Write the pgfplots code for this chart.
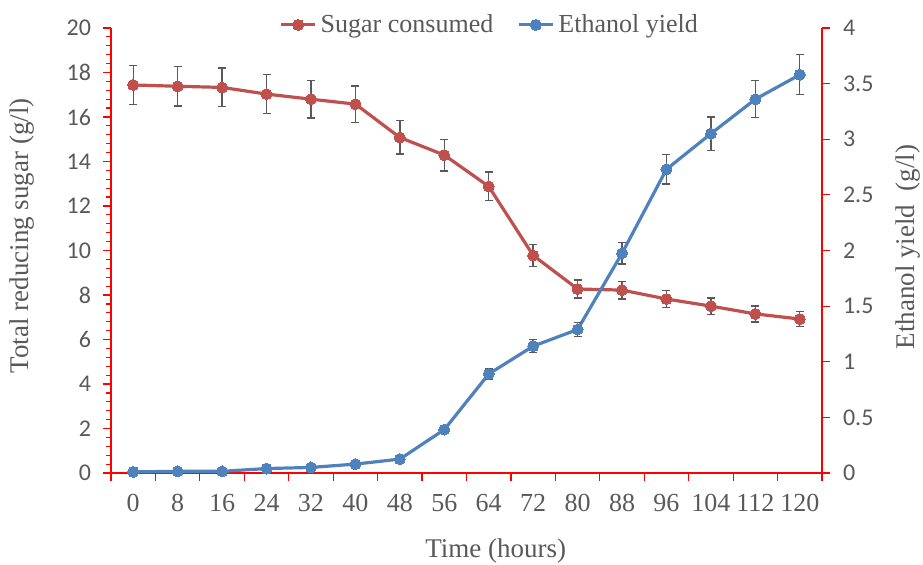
\documentclass[border=0pt]{standalone}
\usepackage{fontspec}
\setmainfont{Liberation Serif}
\newfontfamily\calibri{Carlito}
\usepackage{pgfplots}
\usepackage{pgfplotstable}
\pgfplotsset{compat=1.18}
\definecolor{sred}{HTML}{C0504D}
\definecolor{eblue}{HTML}{4F81BD}
\definecolor{tgray}{HTML}{595959}
\definecolor{ebar}{HTML}{595959}

\pgfplotstableread{
x s se
0 17.44 0.88
1 17.38 0.88
2 17.33 0.87
3 17.03 0.87
4 16.80 0.84
5 16.58 0.82
6 15.08 0.75
7 14.29 0.71
8 12.88 0.64
9 9.78 0.49
10 8.27 0.40
11 8.22 0.40
12 7.82 0.39
13 7.50 0.37
14 7.15 0.36
15 6.92 0.34
}\sugar

\pgfplotstableread{
x e ee
0 0.010 0.005
1 0.015 0.005
2 0.015 0.005
3 0.040 0.010
4 0.050 0.010
5 0.080 0.010
6 0.125 0.015
7 0.390 0.020
8 0.890 0.045
9 1.140 0.058
10 1.290 0.065
11 1.975 0.096
12 2.730 0.133
13 3.050 0.150
14 3.360 0.166
15 3.580 0.180
}\eth

\pgfplotsset{
  common/.style={
    scale only axis, width=355.5bp, height=222.5bp,
    xmin=-0.5, xmax=15.5, at={(0,0)}, anchor=south west,
    clip=false,
    tick align=outside,
    major tick length=4bp, minor tick length=2.5bp,
    every tick/.style={red, line width=0.6bp},
    /pgf/number format/assume math mode=true,
    yticklabel style={font=\calibri\fontsize{12bp}{14bp}\selectfont, color=tgray},
    label style={font=\fontsize{13.5bp}{15bp}\selectfont, color=tgray},
  },
  ebars/.style={
    error bars/.cd, y dir=both, y explicit,
    error bar style={ebar, line width=0.7bp},
    error mark options={rotate=90, ebar, mark size=2bp, line width=0.7bp},
  },
  sugarstyle/.style={color=sred, line width=1.6bp, mark=*, mark size=2.75bp, mark options={fill=sred, draw=sred, line width=0bp}},
  ethstyle/.style={color=eblue, line width=1.6bp, mark=*, mark size=2.75bp, mark options={fill=eblue, draw=eblue, line width=0bp}},
}

\begin{document}
\begin{tikzpicture}
\path[use as bounding box] (-55.5bp,-46bp) rectangle (406bp,236.5bp);
\begin{axis}[common,
  ymin=0, ymax=20, ytick={0,2,...,20}, minor y tick num=4,
  yticklabel style={xshift=-2.5bp},
  axis x line*=bottom, axis y line*=left,
  every outer x axis line/.append style={-, red, line width=0.75bp},
  every outer y axis line/.append style={-, red, line width=0.75bp},
  xtick={-0.5,0.5,...,15.5}, xticklabels={},
  extra x ticks={0,1,...,15},
  extra x tick labels={0,8,16,24,32,40,48,56,64,72,80,88,96,104,112,120},
  extra x tick style={major tick length=0pt, tick style={draw=none},
     xticklabel style={font=\fontsize{13bp}{15bp}\selectfont, color=tgray, yshift=-7bp}},
  xlabel={Time (hours)},
  xlabel style={at={(axis description cs:0.541,-0.175)}, anchor=center},
  ylabel={Total reducing sugar (g/l)},
  ylabel style={at={(axis description cs:-0.125,0.533)}, rotate=0, anchor=center},
]
\addplot[sugarstyle, ebars] table[x=x, y=s, y error=se]{\sugar};
\end{axis}
\begin{axis}[common,
  ymin=0, ymax=4, ytick={0,0.5,...,4},
  yticklabel style={xshift=3bp},
  axis x line=none, axis y line*=right,
  every outer y axis line/.append style={-, red, line width=0.75bp},
  ylabel={Ethanol yield\ \ (g/l)},
  ylabel style={at={(axis description cs:1.121,0.508)}, anchor=center},
  legend style={at={(axis description cs:0.534,1.007)}, anchor=center, draw=none, fill=none,
     legend columns=2, font=\fontsize{13bp}{15bp}\selectfont, text=tgray,
     /tikz/every even column/.append style={column sep=10bp}},
  legend cell align=left,
]
\addlegendimage{sugarstyle}
\addlegendentry{Sugar consumed}
\addplot[ethstyle, ebars] table[x=x, y=e, y error=ee]{\eth};
\addlegendentry{Ethanol yield}
\end{axis}
\end{tikzpicture}
\end{document}
